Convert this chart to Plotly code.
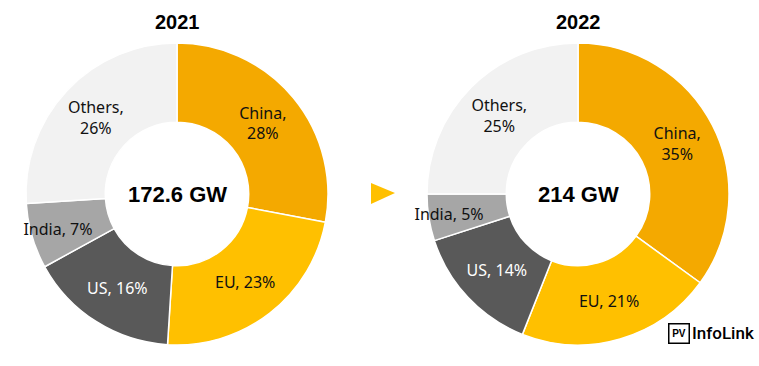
import plotly.graph_objects as go

regions = ["China", "EU", "US", "India", "Others"]
share_2021 = [28, 23, 16, 7, 26]
share_2022 = [35, 21, 14, 5, 25]
totals = ["172.6 GW", "214 GW"]
years = ["2021", "2022"]
colors = ["#F4A900", "#FFC000", "#595959", "#A6A6A6", "#F2F2F2"]
text_colors = ["#111111", "#111111", "#FFFFFF", "#111111", "#111111"]

W, H = 759, 366

def labels_for(vals):
    out = []
    for r, v in zip(regions, vals):
        if r in ("China", "Others"):
            out.append(f"{r},<br>{v}%")
        else:
            out.append(f"{r}, {v}%")
    return out

fig = go.Figure()
domains = [
    dict(x=[26 / W, 328 / W], y=[(H - 345) / H, (H - 43) / H]),
    dict(x=[427 / W, 729 / W], y=[(H - 345) / H, (H - 43) / H]),
]
for vals, dom in zip([share_2021, share_2022], domains):
    fig.add_trace(go.Pie(
        labels=regions, values=vals, text=labels_for(vals),
        textinfo="text", textposition="inside", insidetextorientation="horizontal",
        sort=False, direction="clockwise", rotation=0, hole=0.475,
        marker=dict(colors=colors, line=dict(color="white", width=1.5)),
        textfont=dict(family="Noto Sans", size=16, color=text_colors),
        domain=dom, showlegend=False, hoverinfo="label+value",
    ))

for i, (yr, tot) in enumerate(zip(years, totals)):
    cx = (domains[i]["x"][0] + domains[i]["x"][1]) / 2
    cy = (domains[i]["y"][0] + domains[i]["y"][1]) / 2
    fig.add_annotation(x=cx, y=1 - 22 / H, xref="paper", yref="paper", text=f"<b>{yr}</b>",
                       xanchor="center", yanchor="middle",
                       showarrow=False, font=dict(family="Arial", size=20, color="#000"))
    fig.add_annotation(x=cx, y=cy, xref="paper", yref="paper", text=f"<b>{tot}</b>",
                       xanchor="center", yanchor="middle",
                       showarrow=False, font=dict(family="Arial", size=22, color="#000"))

# arrow between charts
fig.add_shape(type="path", xref="paper", yref="paper",
              path=f"M {371/W} {(H-183)/H} L {395/W} {(H-193)/H} L {371/W} {(H-204)/H} Z",
              fillcolor="#FFC000", line=dict(width=0))

# logo
fig.add_annotation(x=679 / W, y=(H - 333) / H, xref="paper", yref="paper", text="<b>PV</b>",
                   xanchor="center", yanchor="middle", width=17, height=16,
                   showarrow=False, font=dict(family="Arial", size=10, color="#000"),
                   bordercolor="#000", borderwidth=1.5, borderpad=1, bgcolor="white")
fig.add_annotation(x=690 / W, y=(H - 333) / H, xref="paper", yref="paper", text="InfoLink",
                   xanchor="left", yanchor="middle", showarrow=False,
                   font=dict(family="Roboto", size=17, color="#000", weight=500))

fig.update_layout(width=W, height=H, margin=dict(l=0, r=0, t=0, b=0),
                  paper_bgcolor="white", plot_bgcolor="white",
                  uniformtext=dict(minsize=16, mode="show"))
fig.write_html("out.html", post_script="document.body.style.margin='0';",
               config={"displayModeBar": False})
